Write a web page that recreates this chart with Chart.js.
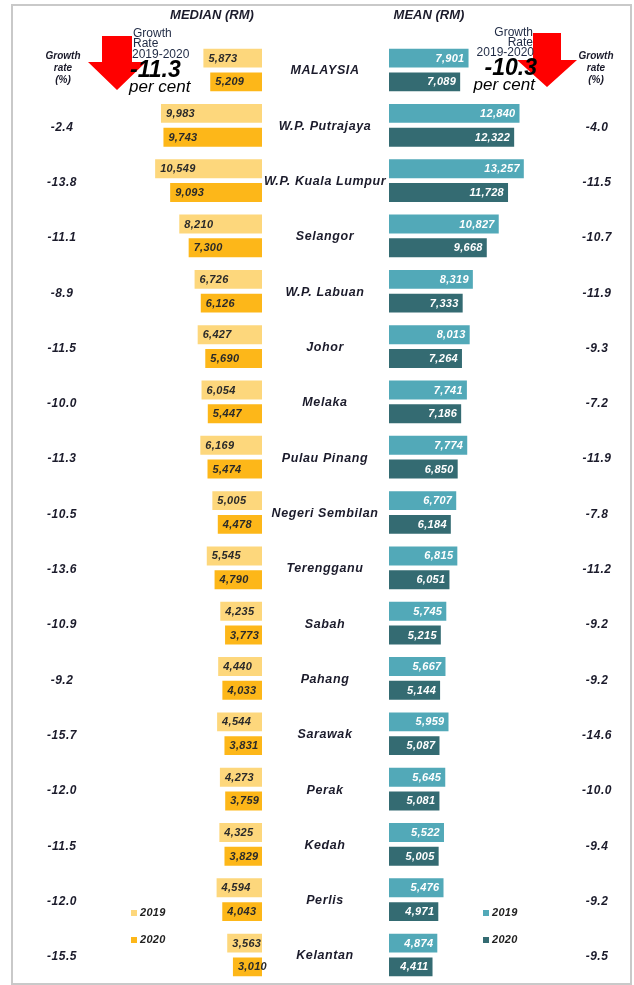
<!DOCTYPE html>
<html>
<head>
<meta charset="utf-8">
<script src="https://cdn.jsdelivr.net/npm/chart.js@4.4.1/dist/chart.umd.min.js"></script>
<style>
  html, body { margin: 0; padding: 0; background: #fff; }
  #wrap { position: relative; width: 634px; height: 985px; overflow: hidden; }
  #wrap canvas { position: absolute; left: 0; top: 0; }
  #frame { position: absolute; left: 11px; top: 4px; width: 617px; height: 977px; border: 2px solid #c9c9c9; }
</style>
</head>
<body>
<div id="wrap">
  <div id="frame"></div>
  <canvas id="median" width="634" height="985"></canvas>
  <canvas id="mean" width="634" height="985"></canvas>
</div>
<script>
const regions = ["MALAYSIA", "W.P. Putrajaya", "W.P. Kuala Lumpur", "Selangor", "W.P. Labuan", "Johor", "Melaka",
  "Pulau Pinang", "Negeri Sembilan", "Terengganu", "Sabah", "Pahang", "Sarawak", "Perak", "Kedah", "Perlis", "Kelantan"];
const median2019 = [5873, 9983, 10549, 8210, 6726, 6427, 6054, 6169, 5005, 5545, 4235, 4440, 4544, 4273, 4325, 4594, 3563];
const median2020 = [5209, 9743, 9093, 7300, 6126, 5690, 5447, 5474, 4478, 4790, 3773, 4033, 3831, 3759, 3829, 4043, 3010];
const mean2019 = [7901, 12840, 13257, 10827, 8319, 8013, 7741, 7774, 6707, 6815, 5745, 5667, 5959, 5645, 5522, 5476, 4874];
const mean2020 = [7089, 12322, 11728, 9668, 7333, 7264, 7186, 6850, 6184, 6051, 5215, 5144, 5087, 5081, 5005, 4971, 4411];
const medianGrowth = [null, -2.4, -13.8, -11.1, -8.9, -11.5, -10.0, -11.3, -10.5, -13.6, -10.9, -9.2, -15.7, -12.0, -11.5, -12.0, -15.5];
const meanGrowth = [null, -4.0, -11.5, -10.7, -11.9, -9.3, -7.2, -11.9, -7.8, -11.2, -9.2, -9.2, -14.6, -10.0, -9.4, -9.2, -9.5];
const overallMedianGrowth = -11.3;
const overallMeanGrowth = -10.3;
const years = ["2019", "2020"];

const FONT = '"Liberation Sans", Arial, sans-serif';
const PX_PER_RM = 0.01032;
const MED_LEFT = 13, MED_ZERO = 263, MEAN_ZERO = 388, MEAN_RIGHT = 621;
const TOP = 42.33, BOTTOM = 2.33;

const colors = {
  med19: "#fdd77c", med20: "#fdb719",
  mean19: "#52a9b8", mean20: "#346b72",
  text: "#1b1b2b"
};

const fmt = v => v.toLocaleString("en-US");
const fmtGrowth = v => v.toFixed(1);

function txt(ctx, s, x, y, font, align, color, spacing) {
  ctx.save();
  ctx.font = font;
  ctx.textAlign = align || "center";
  ctx.textBaseline = "middle";
  ctx.fillStyle = color || colors.text;
  if (spacing) ctx.letterSpacing = spacing;
  ctx.fillText(s, x, y);
  ctx.restore();
}

function arrow(ctx, cx, top, shaftHalf, neckY, headHalf, tipY) {
  ctx.save();
  ctx.fillStyle = "#ff0000";
  ctx.beginPath();
  ctx.moveTo(cx - shaftHalf, top);
  ctx.lineTo(cx + shaftHalf, top);
  ctx.lineTo(cx + shaftHalf, neckY);
  ctx.lineTo(cx + headHalf, neckY);
  ctx.lineTo(cx, tipY);
  ctx.lineTo(cx - headHalf, neckY);
  ctx.lineTo(cx - shaftHalf, neckY);
  ctx.closePath();
  ctx.fill();
  ctx.restore();
}

// bar value labels, left side: dark text at the start of the bar; right side: white text at the end
const valueLabels = {
  id: "valueLabels",
  afterDatasetsDraw(chart) {
    const ctx = chart.ctx;
    const isMedian = chart.canvas.id === "median";
    chart.data.datasets.forEach((ds, i) => {
      chart.getDatasetMeta(i).data.forEach((bar, j) => {
        const s = fmt(ds.data[j]);
        if (isMedian) txt(ctx, s, bar.x + 6, bar.y + 0.5, `italic bold 11px ${FONT}`, "left", "#2a2a2a", "0.3px");
        else txt(ctx, s, bar.x - 5, bar.y + 0.5, `italic bold 11px ${FONT}`, "right", "#ffffff", "0.3px");
      });
    });
  }
};

const medianDecor = {
  id: "medianDecor",
  beforeDatasetsDraw(chart) {
    const ctx = chart.ctx;
    arrow(ctx, 117, 36, 15, 62, 29, 90);
  },
  afterDraw(chart) {
    const ctx = chart.ctx;
    const y = chart.scales.y;
    txt(ctx, "MEDIAN (RM)", 212, 15, `italic bold 13px ${FONT}`, "center");
    txt(ctx, "Growth", 63, 56, `italic bold 10px ${FONT}`, "center");
    txt(ctx, "rate", 63, 68, `italic bold 10px ${FONT}`, "center");
    txt(ctx, "(%)", 63, 80, `italic bold 10px ${FONT}`, "center");
    txt(ctx, "Growth", 133, 34, `12px ${FONT}`, "left", "#1f2a44");
    txt(ctx, "Rate", 133, 44, `12px ${FONT}`, "left", "#1f2a44");
    txt(ctx, "2019-2020", 132, 55, `12px ${FONT}`, "left", "#1f2a44");
    txt(ctx, fmtGrowth(overallMedianGrowth), 130, 71, `italic bold 23px ${FONT}`, "left", "#000");
    txt(ctx, "per cent", 129, 87, `italic 17px ${FONT}`, "left", "#000");
    regions.forEach((r, j) => {
      const py = y.getPixelForValue(j);
      txt(ctx, r, 325, py + 1, `italic bold 12.5px ${FONT}`, "center", colors.text, "0.6px");
      if (medianGrowth[j] !== null) txt(ctx, fmtGrowth(medianGrowth[j]), 62, py + 2, `italic bold 12px ${FONT}`, "center", colors.text, "0.5px");
    });
    // legend
    [colors.med19, colors.med20].forEach((c, k) => {
      const ly = 913 + k * 27;
      ctx.fillStyle = c;
      ctx.fillRect(131, ly - 3, 6, 6);
      txt(ctx, years[k], 140, ly, `italic bold 11px ${FONT}`, "left", "#222", "0.3px");
    });
  }
};

const meanDecor = {
  id: "meanDecor",
  beforeDatasetsDraw(chart) {
    arrow(chart.ctx, 547, 33, 14, 60, 30, 87);
  },
  afterDraw(chart) {
    const ctx = chart.ctx;
    const y = chart.scales.y;
    txt(ctx, "MEAN (RM)", 429, 15, `italic bold 13px ${FONT}`, "center");
    txt(ctx, "Growth", 596, 56, `italic bold 10px ${FONT}`, "center");
    txt(ctx, "rate", 596, 68, `italic bold 10px ${FONT}`, "center");
    txt(ctx, "(%)", 596, 80, `italic bold 10px ${FONT}`, "center");
    txt(ctx, "Growth", 533, 33, `12px ${FONT}`, "right", "#1f2a44");
    txt(ctx, "Rate", 533, 43, `12px ${FONT}`, "right", "#1f2a44");
    txt(ctx, "2019-2020", 534, 53, `12px ${FONT}`, "right", "#1f2a44");
    txt(ctx, fmtGrowth(overallMeanGrowth), 537, 69, `italic bold 23px ${FONT}`, "right", "#000");
    txt(ctx, "per cent", 535, 85, `italic 17px ${FONT}`, "right", "#000");
    regions.forEach((r, j) => {
      const py = y.getPixelForValue(j);
      if (meanGrowth[j] !== null) txt(ctx, fmtGrowth(meanGrowth[j]), 597, py + 2, `italic bold 12px ${FONT}`, "center", colors.text, "0.5px");
    });
    [colors.mean19, colors.mean20].forEach((c, k) => {
      const ly = 913 + k * 27;
      ctx.fillStyle = c;
      ctx.fillRect(483, ly - 3, 6, 6);
      txt(ctx, years[k], 492, ly, `italic bold 11px ${FONT}`, "left", "#222", "0.3px");
    });
  }
};

function barSet(label, data, color) {
  return {
    label, data,
    backgroundColor: color,
    borderColor: "rgba(255,255,255,0.55)",
    borderWidth: 1,
    borderSkipped: false,
    categoryPercentage: 0.86,
    barPercentage: 0.88
  };
}

function makeChart(id, datasets, padding, xMax, reverse, plugins) {
  return new Chart(document.getElementById(id), {
    type: "bar",
    data: { labels: regions, datasets },
    options: {
      indexAxis: "y",
      responsive: false,
      animation: false,
      devicePixelRatio: 1,
      layout: { padding },
      plugins: { legend: { display: false }, tooltip: { enabled: false } },
      scales: {
        x: { display: false, min: 0, max: xMax, reverse },
        y: { display: false }
      }
    },
    plugins
  });
}

makeChart("median",
  [barSet("2019", median2019, colors.med19), barSet("2020", median2020, colors.med20)],
  { left: MED_LEFT, right: 634 - MED_ZERO, top: TOP, bottom: BOTTOM },
  (MED_ZERO - MED_LEFT) / PX_PER_RM, true, [medianDecor, valueLabels]);

makeChart("mean",
  [barSet("2019", mean2019, colors.mean19), barSet("2020", mean2020, colors.mean20)],
  { left: MEAN_ZERO, right: 634 - MEAN_RIGHT, top: TOP, bottom: BOTTOM },
  (MEAN_RIGHT - MEAN_ZERO) / PX_PER_RM, false, [meanDecor, valueLabels]);
</script>
</body>
</html>
